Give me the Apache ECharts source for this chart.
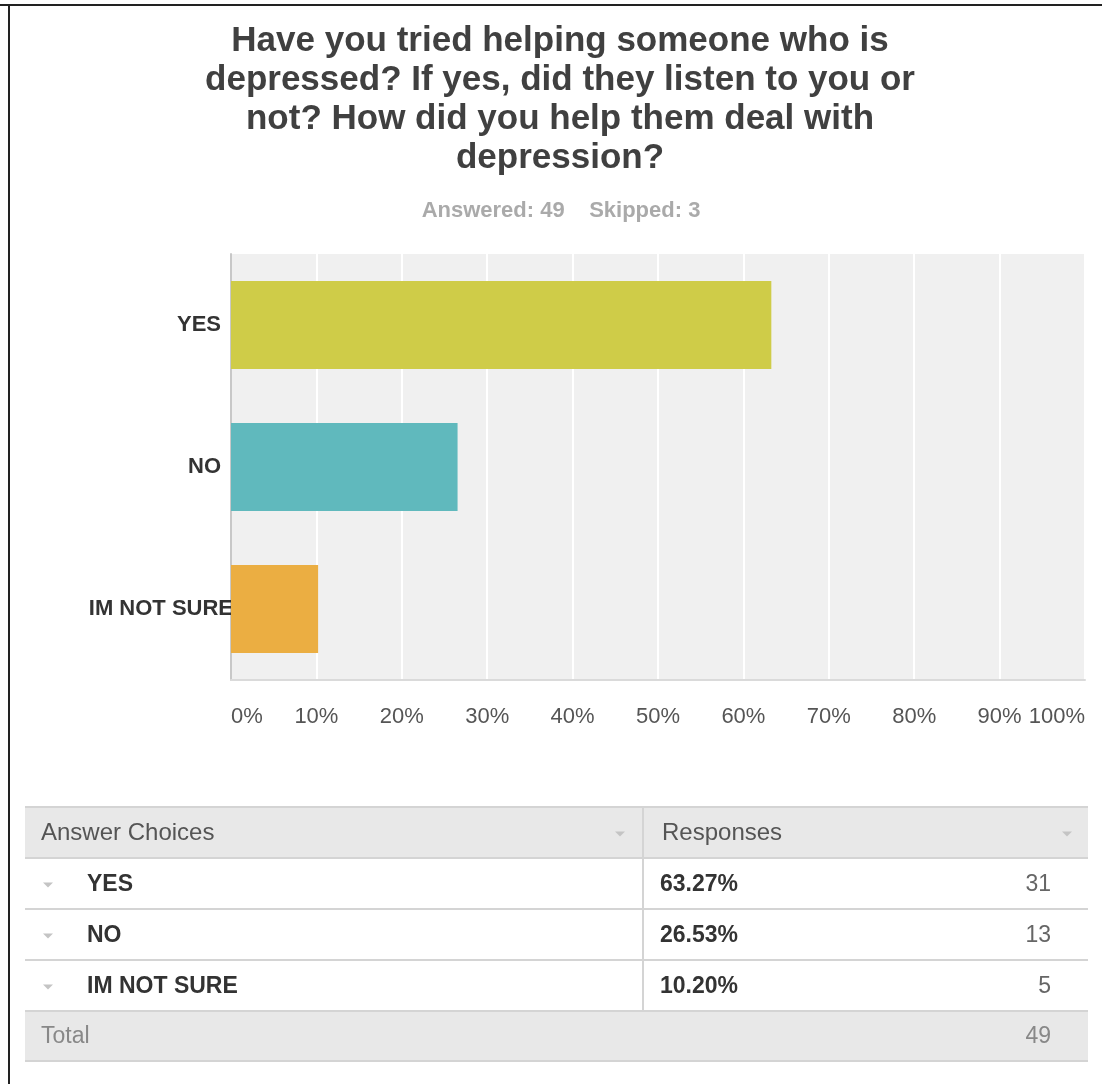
<!DOCTYPE html>
<html>
<head>
<meta charset="utf-8">
<script src="https://cdn.jsdelivr.net/npm/echarts@6/dist/echarts.min.js"></script>
<style>
html,body{margin:0;padding:0;background:#fff;}
#chart{width:1102px;height:1084px;}
</style>
</head>
<body>
<div id="chart"></div>
<script>
const titleText = "Have you tried helping someone who is\ndepressed? If yes, did they listen to you or\nnot? How did you help them deal with\ndepression?";
const answered = 49;
const skipped = 3;
const categories = ["YES", "NO", "IM NOT SURE"];
const percents = [63.27, 26.53, 10.20];
const counts = [31, 13, 5];
const total = 49;
const barColors = ["#cfcc48", "#60b9bd", "#ebae42"];
const tableHeaders = ["Answer Choices", "Responses"];

const chart = echarts.init(document.getElementById('chart'));

const FONT = "'Liberation Sans', Arial, sans-serif";
const graphics = [];
// frame lines (top & left)
graphics.push({type:'rect', shape:{x:0,y:4,width:1102,height:2}, style:{fill:'#222'}, silent:true});
graphics.push({type:'rect', shape:{x:8,y:4,width:2,height:1080}, style:{fill:'#222'}, silent:true});

// table
const tx0 = 25, tx1 = 1088, colX = 643;
const rowTops = [807, 858, 909, 960, 1011, 1061];
graphics.push({type:'rect', shape:{x:tx0,y:rowTops[0],width:tx1-tx0,height:rowTops[1]-rowTops[0]}, style:{fill:'#e8e8e8'}});
graphics.push({type:'rect', shape:{x:tx0,y:rowTops[4],width:tx1-tx0,height:rowTops[5]-rowTops[4]}, style:{fill:'#e8e8e8'}});
rowTops.forEach(y => graphics.push({type:'rect', shape:{x:tx0,y:y-1,width:tx1-tx0,height:2}, style:{fill:'#d4d4d4'}}));
graphics.push({type:'rect', shape:{x:colX-1,y:rowTops[0],width:2,height:rowTops[4]-rowTops[0]}, style:{fill:'#d4d4d4'}});

function tri(cx, cy, color) {
  return {type:'polygon', shape:{points:[[cx-5,cy-2],[cx+5,cy-2],[cx,cy+3]]}, style:{fill:color}};
}
function txt(x, y, text, opts) {
  return {type:'text', x:x, y:y, style:Object.assign({text:text, fontFamily:FONT, fontSize:23, verticalAlign:'middle', align:'left', fill:'#555'}, opts||{})};
}
const hc = (rowTops[0]+rowTops[1])/2 + 1;
graphics.push(txt(41, hc, tableHeaders[0], {fill:'#555', fontSize:24}));
graphics.push(txt(662, hc, tableHeaders[1], {fill:'#555', fontSize:24}));
graphics.push(tri(620, hc, '#c4c4c4'));
graphics.push(tri(1067, hc, '#c4c4c4'));
categories.forEach((c, i) => {
  const cy = (rowTops[i+1]+rowTops[i+2])/2 + 1;
  graphics.push(tri(48, cy, '#c4c4c4'));
  graphics.push(txt(87, cy, c, {fontWeight:'bold', fill:'#333'}));
  graphics.push(txt(660, cy, percents[i].toFixed(2) + '%', {fontWeight:'bold', fill:'#333'}));
  graphics.push(txt(1051, cy, String(counts[i]), {align:'right', fill:'#666'}));
});
const tc = (rowTops[4]+rowTops[5])/2 + 1;
graphics.push(txt(41, tc, 'Total', {fill:'#888'}));
graphics.push(txt(1051, tc, String(total), {align:'right', fill:'#888'}));

const option = {
  backgroundColor: '#ffffff',
  animation: false,
  title: [{
    text: titleText,
    left: 555, top: 17, textAlign: 'center',
    textStyle: {fontFamily: FONT, fontSize: 35, fontWeight: 'bold', color: '#404040', lineHeight: 39}
  }, {
    text: 'Answered: ' + answered + '    Skipped: ' + skipped,
    left: 556, top: 195, textAlign: 'center',
    textStyle: {fontFamily: FONT, fontSize: 22, fontWeight: 'bold', color: '#aaaaaa'}
  }],
  grid: {left: 231, top: 254, width: 854, height: 426, show: true, backgroundColor: '#f0f0f0', borderWidth: 0, containLabel: false},
  xAxis: {
    type: 'value', min: 0, max: 100, interval: 10,
    axisLine: {show: true, lineStyle: {color: '#dadada', width: 2}},
    axisTick: {show: false},
    splitLine: {show: true, lineStyle: {color: '#ffffff', width: 2}},
    axisLabel: {formatter: '{value}%', fontFamily: FONT, fontSize: 22, color: '#555', margin: 26, alignMinLabel: 'left', alignMaxLabel: 'right'}
  },
  yAxis: {
    type: 'category', inverse: true,
    data: categories.map((c, i) => i === 2 ? {value: c, textStyle: {padding: [0, -12, 0, 0]}} : c),
    axisLine: {show: true, lineStyle: {color: '#c8c8c8', width: 2}},
    axisTick: {show: false},
    splitLine: {show: false},
    axisLabel: {fontFamily: FONT, fontSize: 22, fontWeight: 'bold', color: '#333', margin: 10}
  },
  series: [{
    type: 'bar',
    data: percents.map((v, i) => ({value: v, itemStyle: {color: barColors[i]}})),
    barCategoryGap: '38%'
  }],
  graphic: graphics
};
chart.setOption(option);
</script>
</body>
</html>
